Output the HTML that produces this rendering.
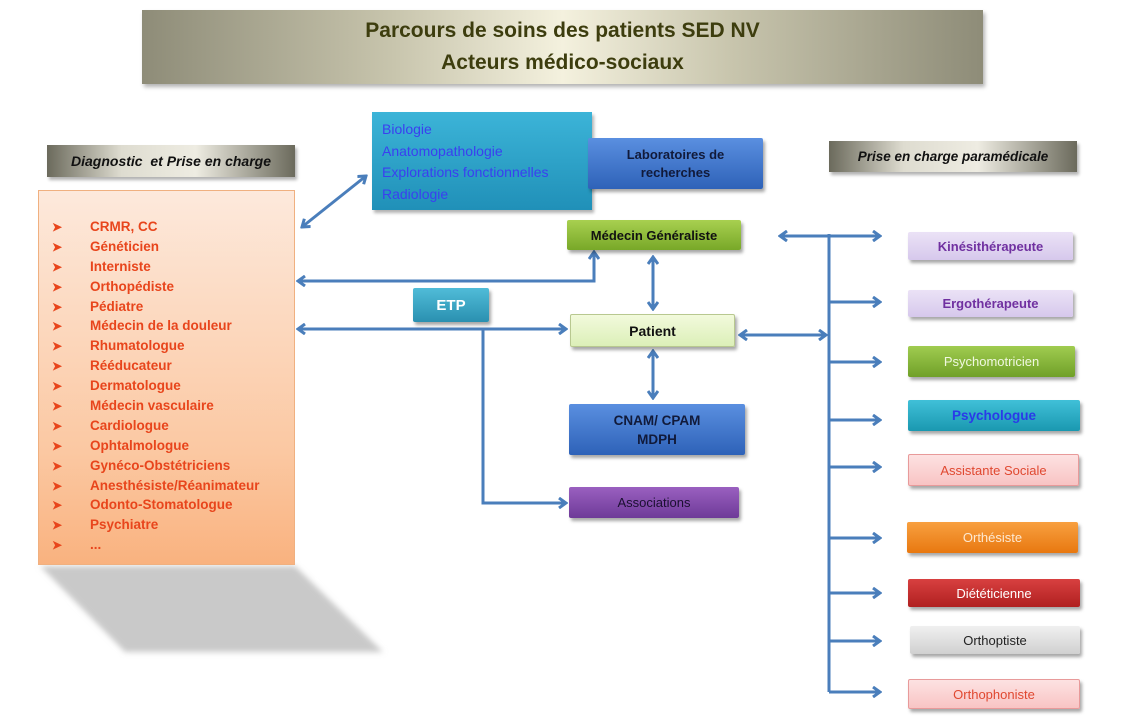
<!DOCTYPE html>
<html><head><meta charset="utf-8"><style>
body{margin:0;width:1124px;height:720px;background:#fff;position:relative;overflow:hidden;font-family:"Liberation Sans",sans-serif;}
.a{position:absolute;box-sizing:border-box;display:flex;align-items:center;justify-content:center;text-align:center;font-weight:bold;}
.bx{box-shadow:2px 3px 3px rgba(0,0,0,.35);border-radius:2px;}
.lst{position:absolute;left:52px;font-size:13.5px;font-weight:bold;color:#e8451c;}
.lst div{height:19.9px;line-height:19.9px;white-space:nowrap;}
.lst span{display:inline-block;width:38px;font-size:12px;}
</style></head><body>
<!-- title -->
<div class="a" style="left:142px;top:10px;width:841px;height:74px;background:linear-gradient(90deg,#8e8c78 0%,#c8c5ad 30%,#f4f1de 50%,#c8c5ad 70%,#8e8c78 100%);box-shadow:2px 3px 4px rgba(0,0,0,.3);flex-direction:column;color:#3d3d0e;font-size:21px;line-height:32px;">
<div>Parcours de soins des patients SED NV</div><div>Acteurs médico-sociaux</div></div>
<!-- labels -->
<div class="a" style="left:47px;top:145px;width:248px;height:32px;background:linear-gradient(90deg,#6b6a5c,#dedcd0 30%,#eeece2 60%,#6b6a5c);font-style:italic;font-size:14px;color:#111;box-shadow:2px 3px 3px rgba(0,0,0,.3)">Diagnostic&nbsp; et Prise en charge</div>
<div class="a" style="left:829px;top:141px;width:248px;height:31px;background:linear-gradient(90deg,#6b6a5c,#dedcd0 30%,#eeece2 60%,#6b6a5c);font-style:italic;font-size:13.5px;color:#111;box-shadow:2px 3px 3px rgba(0,0,0,.3)">Prise en charge paramédicale</div>
<!-- shadow -->
<svg style="position:absolute;left:0;top:0" width="1124" height="720">
<defs><filter id="bl"><feGaussianBlur stdDeviation="3"/></filter>
<marker id="ar" markerWidth="10" markerHeight="12" refX="8" refY="6" orient="auto-start-reverse" markerUnits="userSpaceOnUse"><path d="M1,1 L8,6 L1,11" fill="none" stroke="#4a7ebb" stroke-width="3"/></marker></defs>
<polygon points="40,566 295,566 383,652 125,652" fill="#c9c9c9" filter="url(#bl)"/>
<g stroke="#4a7ebb" stroke-width="3" fill="none">
<line x1="302" y1="227" x2="366" y2="176" marker-start="url(#ar)" marker-end="url(#ar)"/>
<polyline points="298,281 594,281 594,252" marker-start="url(#ar)" marker-end="url(#ar)"/>
<line x1="298" y1="329" x2="566" y2="329" marker-start="url(#ar)" marker-end="url(#ar)"/>
<polyline points="483,329 483,503 566,503" marker-end="url(#ar)"/>
<line x1="653" y1="257" x2="653" y2="309" marker-start="url(#ar)" marker-end="url(#ar)"/>
<line x1="653" y1="351" x2="653" y2="398" marker-start="url(#ar)" marker-end="url(#ar)"/>
<line x1="829" y1="234" x2="829" y2="692"/>
<line x1="780" y1="236" x2="880" y2="236" marker-start="url(#ar)" marker-end="url(#ar)"/>
<line x1="740" y1="335" x2="826" y2="335" marker-start="url(#ar)" marker-end="url(#ar)"/>
<line x1="829" y1="302" x2="880" y2="302" marker-end="url(#ar)"/>
<line x1="829" y1="362" x2="880" y2="362" marker-end="url(#ar)"/>
<line x1="829" y1="420" x2="880" y2="420" marker-end="url(#ar)"/>
<line x1="829" y1="467" x2="880" y2="467" marker-end="url(#ar)"/>
<line x1="829" y1="538" x2="880" y2="538" marker-end="url(#ar)"/>
<line x1="829" y1="593" x2="880" y2="593" marker-end="url(#ar)"/>
<line x1="829" y1="641" x2="880" y2="641" marker-end="url(#ar)"/>
<line x1="829" y1="692" x2="880" y2="692" marker-end="url(#ar)"/>
</g></svg>
<!-- orange list -->
<div style="position:absolute;left:38px;top:190px;width:257px;height:375px;background:linear-gradient(180deg,#fde9dc,#fbc8a2 70%,#f9b27f);border:1px solid #f0b080;box-sizing:border-box"></div>
<div class="lst" style="top:217px">
<div><span>➤</span>CRMR, CC</div><div><span>➤</span>Généticien</div><div><span>➤</span>Interniste</div><div><span>➤</span>Orthopédiste</div><div><span>➤</span>Pédiatre</div><div><span>➤</span>Médecin de la douleur</div><div><span>➤</span>Rhumatologue</div><div><span>➤</span>Rééducateur</div><div><span>➤</span>Dermatologue</div><div><span>➤</span>Médecin vasculaire</div><div><span>➤</span>Cardiologue</div><div><span>➤</span>Ophtalmologue</div><div><span>➤</span>Gynéco-Obstétriciens</div><div><span>➤</span>Anesthésiste/Réanimateur</div><div><span>➤</span>Odonto-Stomatologue</div><div><span>➤</span>Psychiatre</div><div><span>➤</span>...</div></div>
<!-- bio -->
<div style="position:absolute;left:372px;top:112px;width:220px;height:98px;background:linear-gradient(180deg,#3cb4d8,#2090b8);box-shadow:2px 3px 3px rgba(0,0,0,.3);color:#3a3ff0;font-size:14px;line-height:21.5px;padding:7px 0 0 10px;box-sizing:border-box">Biologie<br>Anatomopathologie<br>Explorations fonctionnelles<br>Radiologie</div>
<div class="a bx" style="left:588px;top:138px;width:175px;height:51px;background:linear-gradient(180deg,#5a8fe0,#2e62b8);color:#111a3a;font-size:13px;line-height:18px">Laboratoires de<br>recherches</div>
<div class="a bx" style="left:567px;top:220px;width:174px;height:30px;background:linear-gradient(180deg,#a8d050,#78a828);color:#111;font-size:13px">Médecin Généraliste</div>
<div class="a bx" style="left:413px;top:288px;width:76px;height:34px;background:linear-gradient(180deg,#50bcd8,#2a90b0);color:#fff;font-size:15px">ETP</div>
<div class="a bx" style="left:570px;top:314px;width:165px;height:33px;background:linear-gradient(180deg,#f2fadc,#dcefb8);border:1px solid #b8c890;color:#111;font-size:14px">Patient</div>
<div class="a bx" style="left:569px;top:404px;width:176px;height:51px;background:linear-gradient(180deg,#5a8fe0,#2e62b8);color:#111a3a;font-size:13.5px;line-height:19px">CNAM/ CPAM<br>MDPH</div>
<div class="a bx" style="left:569px;top:487px;width:170px;height:31px;background:linear-gradient(180deg,#9a60c0,#6e3a98);color:#1a1030;font-size:13px;font-weight:normal">Associations</div>
<!-- right -->
<div class="a bx" style="left:908px;top:232px;width:165px;height:28px;background:linear-gradient(180deg,#ebe2f6,#d6c8ec);color:#7030a0;font-size:13px">Kinésithérapeute</div>
<div class="a bx" style="left:908px;top:290px;width:165px;height:27px;background:linear-gradient(180deg,#ebe2f6,#d6c8ec);color:#7030a0;font-size:13px">Ergothérapeute</div>
<div class="a bx" style="left:908px;top:346px;width:167px;height:31px;background:linear-gradient(180deg,#a0cc50,#70a028);color:#f0f8e0;font-size:13px;font-weight:normal">Psychomotricien</div>
<div class="a bx" style="left:908px;top:400px;width:172px;height:31px;background:linear-gradient(180deg,#40c0d8,#1a98b0);color:#2a3ae8;font-size:13.5px">Psychologue</div>
<div class="a bx" style="left:908px;top:454px;width:171px;height:32px;background:linear-gradient(180deg,#fde2e2,#f8c4c4);border:1px solid #e89a9a;color:#e04830;font-size:13px;font-weight:normal">Assistante Sociale</div>
<div class="a bx" style="left:907px;top:522px;width:171px;height:31px;background:linear-gradient(180deg,#f8a040,#e87810);color:#fde8d0;font-size:13px;font-weight:normal">Orthésiste</div>
<div class="a bx" style="left:908px;top:579px;width:172px;height:28px;background:linear-gradient(180deg,#d84040,#b02020);color:#fff;font-size:13px;font-weight:normal">Diététicienne</div>
<div class="a bx" style="left:910px;top:626px;width:170px;height:28px;background:linear-gradient(180deg,#f0f0f0,#d0d0d0);color:#222;font-size:13px;font-weight:normal">Orthoptiste</div>
<div class="a bx" style="left:908px;top:679px;width:172px;height:30px;background:linear-gradient(180deg,#fde2e2,#f8c4c4);border:1px solid #e89a9a;color:#e04830;font-size:13px;font-weight:normal">Orthophoniste</div>
</body></html>
